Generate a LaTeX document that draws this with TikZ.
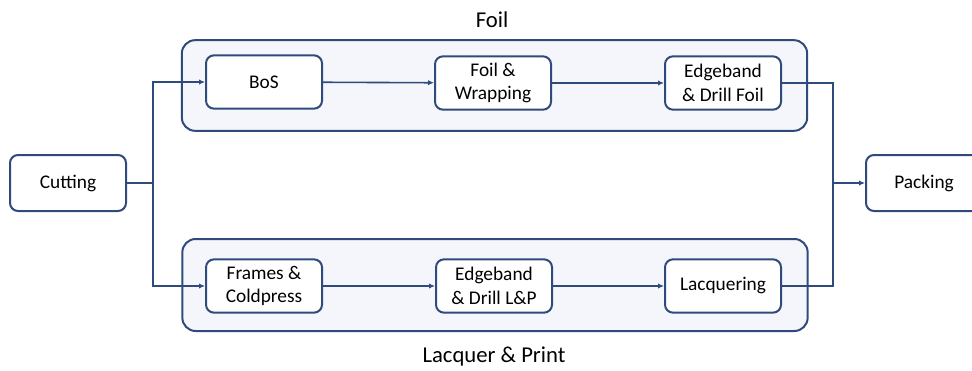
\documentclass[tikz,border=0pt]{standalone}
\usepackage{fontspec}
\setmainfont{Carlito}
\usetikzlibrary{arrows.meta,positioning}
\definecolor{linecol}{HTML}{2F4B7C}
\definecolor{grpfill}{HTML}{F4F6FB}

\begin{document}
\begin{tikzpicture}[x=0.75pt,y=-0.75pt,
stepbox/.style={draw=linecol,line width=1.5pt,rounded corners=6pt,fill=white,
  minimum width=87pt,minimum height=40pt,align=center,font=\fontsize{14.5}{17.5}\selectfont,inner sep=1pt},
groupbox/.style={draw=linecol,line width=1.5pt,rounded corners=10pt,fill=grpfill,
  minimum width=469pt,minimum height=68pt},
grplabel/.style={font=\fontsize{17}{19}\selectfont},
link/.style={draw=linecol,line width=1.2pt},
arr/.style={link,-{Latex[length=4.5pt,width=4pt]}}]
\useasboundingbox (0,0) rectangle (972,371);
% groups
\node[groupbox] (foil) at (494.5,85.5) {};
\node[groupbox,minimum height=69pt] (lacq) at (495,285) {};
\node[grplabel] (foilLbl) at (492,20) {Foil};
\node[grplabel] (lacqLbl) at (494,357) {Lacquer \& Print};
% steps
\node[stepbox,minimum height=42pt] (cut) at (68,183) {Cutting};
\node[stepbox] (bos) at (264,82) {BoS};
\node[stepbox] (wrap) at (493,83) {Foil \&\\Wrapping};
\node[stepbox] (ebf) at (723,83) {Edgeband\\\& Drill Foil};
\node[stepbox] (frm) at (264,286) {Frames \&\\Coldpress};
\node[stepbox] (eblp) at (494,286) {Edgeband\\\& Drill L\&P};
\node[stepbox] (lqr) at (723,286) {Lacquering};
\node[stepbox,minimum height=42pt] (pack) at (924,183) {Packing};
% junctions
\coordinate (jl) at (153,183);
\coordinate (jr) at (833,183);
\draw[link] (cut.east) -- (jl);
\draw[arr] (jl) |- (bos.west);
\draw[arr] (jl) |- (frm.west);
\draw[arr] (bos) -- (wrap);
\draw[arr] (wrap) -- (ebf);
\draw[arr] (frm) -- (eblp);
\draw[arr] (eblp) -- (lqr);
\draw[link] (ebf.east) -| (jr);
\draw[link] (lqr.east) -| (jr);
\draw[arr] (jr) -- (pack.west);
\end{tikzpicture}
\end{document}
